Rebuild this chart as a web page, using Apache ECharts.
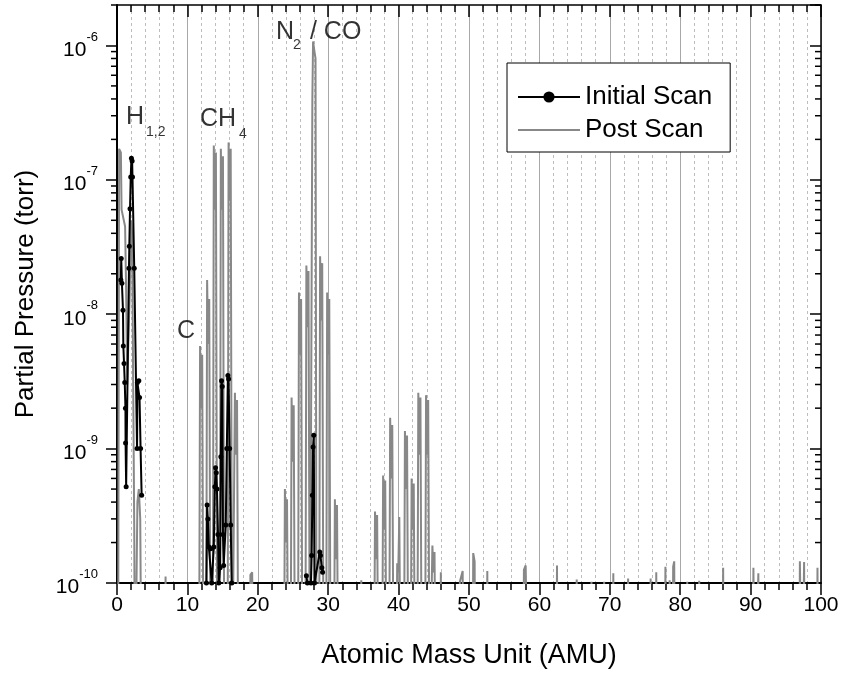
<!DOCTYPE html>
<html><head><meta charset="utf-8">
<script src="https://cdn.jsdelivr.net/npm/echarts@6/dist/echarts.min.js"></script>
<style>html,body{margin:0;padding:0;background:#fff}#c{width:843px;height:674px}</style>
</head><body><div id="c"></div>
<script>
// ---------------- DATA ----------------
// Post Scan (grey) : [AMU, torr]; 1e-11 = below axis floor
const postH = [[0.15,1e-11],[0.3,1.7e-7],[0.55,1.6e-7],[0.65,6e-8],[1.15,4.5e-8],[1.3,1.5e-8],[1.45,3e-9],[1.8,1.4e-8],[2.0,5e-8],[2.15,4e-8],[2.3,3e-9],[2.45,2.5e-10],[2.55,1e-11],[2.9,4e-10],[3.1,5e-10],[3.3,3e-10],[3.5,1e-11],
  [6.8,1e-11],[6.9,1.12e-10],[7.0,1e-11]];
const postCH4 = [[11.65,1e-11],[11.8,5.8e-9],[11.95,2e-9],[12.1,5e-9],[12.3,1e-11],
  [12.65,1e-11],[12.8,1.8e-8],[12.95,6e-9],[13.1,1.3e-8],[13.3,1e-11],
  [13.6,1e-11],[13.75,1.8e-7],[13.9,6e-8],[14.05,1.6e-7],[14.25,1e-11],
  [14.6,1e-11],[14.75,1.7e-7],[14.9,6e-8],[15.05,1.5e-7],[15.25,1e-11],
  [15.7,1e-11],[15.85,1.9e-7],[16.0,7e-8],[16.15,1.7e-7],[16.35,1e-11],
  [16.6,1e-11],[16.75,2.6e-9],[16.9,9e-10],[17.05,2.3e-9],[17.25,1e-11],
  [18.8,1e-11],[18.95,1.15e-10],[19.2,1.2e-10],[19.4,1e-11]];
const postN2 = [[23.7,1e-11],[23.85,5e-10],[24.0,2e-10],[24.15,4.2e-10],[24.35,1e-11],
  [24.65,1e-11],[24.8,2.4e-9],[24.95,8e-10],[25.1,2.1e-9],[25.3,1e-11],
  [25.7,1e-11],[25.85,1.45e-8],[26.0,5e-9],[26.15,1.3e-8],[26.35,1e-11],
  [26.75,1e-11],[26.9,2.3e-8],[27.05,8e-9],[27.2,2.1e-8],[27.4,1e-11],
  [27.6,1e-11],[27.75,4e-7],[27.85,1.07e-6],[28.05,9e-7],[28.2,8e-7],[28.35,1e-11],
  [28.7,1e-11],[28.85,2.7e-8],[29.0,9e-9],[29.15,2.4e-8],[29.35,1e-11],
  [29.7,1e-11],[29.85,1.45e-8],[30.0,5e-9],[30.15,1.3e-8],[30.35,1e-11],
  [30.8,1e-11],[30.95,4.2e-10],[31.1,1.5e-10],[31.25,3.8e-10],[31.45,1e-11],
  [34.6,1e-11],[34.7,1.05e-10],[34.8,1e-11]];
const postAr = [[36.5,1e-11],[36.65,3.4e-10],[36.8,1.5e-10],[36.95,3.2e-10],[37.15,1e-11],
  [37.65,1e-11],[37.8,6.3e-10],[37.95,2.5e-10],[38.1,5.8e-10],[38.3,1e-11],
  [38.65,1e-11],[38.8,1.7e-9],[38.95,6e-10],[39.1,1.5e-9],[39.3,1e-11],
  [39.65,1e-11],[39.8,1.4e-10],[39.95,1.2e-10],[40.1,3.1e-10],[40.3,1e-11],
  [40.75,1e-11],[40.9,1.35e-9],[41.05,5e-10],[41.2,1.25e-9],[41.4,1e-11],
  [41.7,1e-11],[41.85,6e-10],[42.0,2.5e-10],[42.15,5.5e-10],[42.35,1e-11],
  [42.65,1e-11],[42.8,2.6e-9],[42.95,9e-10],[43.1,2.4e-9],[43.3,1e-11],
  [43.75,1e-11],[43.9,2.5e-9],[44.05,9e-10],[44.2,2.3e-9],[44.4,1e-11],
  [44.65,1e-11],[44.8,1.9e-10],[44.95,1.2e-10],[45.1,1.7e-10],[45.3,1e-11],
  [45.9,1e-11],[46.0,1.2e-10],[46.1,1e-11]];
const postTrace = [[48.6,1e-11],[48.7,1.02e-10],[49.1,1.23e-10],[49.2,1e-11],
  [50.5,1e-11],[50.6,1.67e-10],[50.8,1.45e-10],[50.9,1e-11],
  [52.5,1e-11],[52.6,1.23e-10],[52.7,1e-11],
  [57.7,1e-11],[57.8,1.25e-10],[58.05,1.35e-10],[58.3,1.35e-10],[58.4,1e-11],
  [62.4,1e-11],[62.5,1.35e-10],[62.6,1e-11],
  [65.2,1e-11],[65.3,1.06e-10],[65.4,1e-11],
  [67.3,1e-11],[67.4,1.02e-10],[67.5,1e-11],
  [69.1,1e-11],[69.2,1.02e-10],[69.3,1e-11],
  [70.4,1e-11],[70.5,1.18e-10],[70.6,1e-11],
  [72.5,1e-11],[72.6,1.08e-10],[72.7,1e-11],
  [75.7,1e-11],[75.8,1.08e-10],[75.9,1e-11],
  [76.5,1e-11],[76.6,1.2e-10],[76.7,1e-11],
  [77.8,1e-11],[77.9,1.32e-10],[78.0,1e-11],
  [78.4,1e-11],[78.5,1.05e-10],[78.6,1e-11],
  [78.9,1e-11],[79.0,1.32e-10],[79.15,1.45e-10],[79.25,1e-11],
  [80.9,1e-11],[81.0,1.02e-10],[81.1,1e-11],
  [82.6,1e-11],[82.7,1.04e-10],[82.8,1e-11],
  [86.0,1e-11],[86.1,1.3e-10],[86.2,1e-11],
  [90.3,1e-11],[90.4,1.3e-10],[90.6,1e-11],[91.1,1.18e-10],[91.2,1e-11],
  [96.9,1e-11],[97.0,1.45e-10],[97.15,1.45e-10],[97.3,1e-11],[97.6,1.43e-10],[97.7,1e-11],
  [99.4,1e-11],[99.5,1.3e-10],[99.6,1e-11]];

// Initial Scan (black) : [AMU, torr]
const initH = [[0.55,1.8e-8],[0.6,2.6e-8],[0.7,1.7e-8],[0.85,1.07e-8],[0.9,5.8e-9],[1.0,4.3e-9],[1.1,3.1e-9],[1.2,2e-9],[1.22,1.1e-9],[1.3,5.2e-10],
  [1.7,2.2e-8],[1.75,3.2e-8],[1.85,6.1e-8],[1.95,1.05e-7],[2.05,1.45e-7],[2.15,1.38e-7],[2.2,1.05e-7],[2.45,2.2e-8],
  [2.85,1.0e-9],[2.9,3.1e-9],[3.1,3.2e-9],[3.2,2.4e-9],[3.35,1.0e-9],[3.5,4.5e-10]];
const initCH4 = [[12.7,1.0e-10],[12.8,3.8e-10],[12.9,3.0e-10],[13.05,1.85e-10],[13.3,1.8e-10],[13.45,1.0e-10],
  [13.75,1.85e-10],[13.9,5.2e-10],[14.0,7.2e-10],[14.1,6.6e-10],[14.2,5.0e-10],[14.35,2.3e-10],[14.45,1.0e-10],
  [14.65,1.3e-10],[14.75,8.7e-10],[14.85,3.2e-9],[14.95,2.9e-9],[15.05,2.3e-10],[15.15,1.35e-10],
  [15.45,2.7e-10],[15.6,1.0e-9],[15.75,3.5e-9],[15.85,3.3e-9],[16.0,1.0e-9],[16.15,2.7e-10],[16.3,1.0e-10]];
const initN2 = [[26.9,1.13e-10],[27.05,1.0e-10],[27.55,1.0e-10],[27.65,1.6e-10],[27.75,4.5e-10],[27.85,1.03e-9],[27.95,1.26e-9],[28.05,1.0e-10],
  [28.8,1.7e-10],[28.9,1.6e-10],[29.1,1.3e-10],[29.2,1.2e-10]];

// Annotations: [text, AMU, torr, isSubscript]
const peakLabels = [
  ['H', 1.28, 2.92e-7, false], ['1,2', 4.12, 2.25e-7, true],
  ['CH', 11.79, 2.82e-7, false], ['4', 17.33, 2.18e-7, true],
  ['C', 8.52, 7.48e-9, false],
  ['N', 22.59, 1.26e-6, false], ['2', 25.0, 1.0e-6, true], ['/ CO', 27.41, 1.26e-6, false]
];

const xTickLabels = ['0','10','20','30','40','50','60','70','80','90','100'];
const seriesNames = ['Initial Scan', 'Post Scan'];

// ---------------- CHART ----------------
const FONT = '"Liberation Sans", Arial, Helvetica, sans-serif';
const minorTickTorr = [];
for (let e = -10; e <= -6; e++) for (let k = 2; k <= 9; k++) { const v = k * Math.pow(10, e); if (v <= 2e-6) minorTickTorr.push(v); }

const gap = [['-','-']];
const initialData = initH.concat(gap, initCH4, gap, initN2);
const postData = postH.concat(postCH4, postN2, postAr, postTrace);

const chart = echarts.init(document.getElementById('c'), null, {renderer: 'canvas'});
const axisBlack = {color: '#000', width: 1.5};
chart.setOption({
  animation: false,
  backgroundColor: '#fff',
  grid: {left: 117, right: 22, top: 5, bottom: 91, containLabel: false},
  legend: {
    data: [{name: seriesNames[0]}, {name: seriesNames[1], itemStyle: {opacity: 0}}],
    orient: 'vertical', left: 507, top: 63,
    itemWidth: 62, itemHeight: 14, itemGap: 5,
    padding: [20, 18, 8, 10], borderColor: '#000', borderWidth: 1, backgroundColor: '#fff',
    textStyle: {fontSize: 26, color: '#000', fontFamily: FONT, lineHeight: 28}
  },
  xAxis: [{
    type: 'value', min: 0, max: 100, interval: 10, position: 'bottom',
    name: 'Atomic Mass Unit (AMU)', nameLocation: 'middle', nameGap: 59,
    nameTextStyle: {fontSize: 27, color: '#000', fontFamily: FONT},
    axisLine: {onZero: false, lineStyle: {color: '#000', width: 2}},
    axisTick: {length: 12, lineStyle: axisBlack},
    minorTick: {show: true, splitNumber: 5, length: 7, lineStyle: axisBlack},
    splitLine: {show: true, lineStyle: {color: '#a8a8a8', width: 1}},
    minorSplitLine: {show: true, lineStyle: {color: '#bdbdbd', width: 1, type: [3, 3]}},
    axisLabel: {fontSize: 21, color: '#000', fontFamily: FONT, margin: 12,
      formatter: (v) => xTickLabels[Math.round(v / 10)] }
  }, {
    type: 'value', min: 0, max: 100, interval: 10, position: 'top',
    axisLine: {onZero: false, lineStyle: {color: '#000', width: 1.5}},
    axisTick: {inside: true, length: 12, lineStyle: axisBlack},
    minorTick: {show: true, splitNumber: 5, length: 7, lineStyle: axisBlack},
    splitLine: {show: false}, axisLabel: {show: false}
  }],
  yAxis: [{
    type: 'log', logBase: 10, min: 1e-10, max: 2e-6, position: 'left',
    name: 'Partial Pressure (torr)', nameLocation: 'middle', nameGap: 78,
    nameTextStyle: {fontSize: 26, color: '#000', fontFamily: FONT},
    axisLine: {onZero: false, lineStyle: {color: '#000', width: 2}},
    axisTick: {length: 11, lineStyle: axisBlack},
    splitLine: {show: false},
    axisLabel: {
      showMaxLabel: false, margin: 19, color: '#000', fontFamily: FONT,
      formatter: (v) => '{b|10}{s|' + Math.round(Math.log10(v)) + '}',
      rich: {
        b: {fontSize: 21, fontFamily: FONT, color: '#000', lineHeight: 30, verticalAlign: 'bottom'},
        s: {fontSize: 13, fontFamily: FONT, color: '#000', lineHeight: 13, verticalAlign: 'top'}
      }
    }
  }, {
    type: 'log', logBase: 10, min: 1e-10, max: 2e-6, position: 'right',
    axisLine: {onZero: false, lineStyle: {color: '#000', width: 1.5}},
    axisTick: {inside: true, length: 11, lineStyle: axisBlack},
    splitLine: {show: false}, axisLabel: {show: false}
  }],
  series: [{
    name: 'Post Scan', type: 'line', data: postData, showSymbol: false, symbol: 'none',
    lineStyle: {color: '#888888', width: 2}, itemStyle: {color: '#888888'}, clip: true, z: 2
  }, {
    name: 'Initial Scan', type: 'line', data: initialData, symbol: 'circle', symbolSize: 5,
    showAllSymbol: true, connectNulls: false,
    lineStyle: {color: '#000', width: 2}, itemStyle: {color: '#000'}, clip: true, z: 3
  }, {
    type: 'custom', silent: true, clip: false, z: 4,
    data: minorTickTorr.map(v => [0, v]),
    renderItem: (params, api) => {
      const l = api.coord([0, api.value(1)]);
      const r = api.coord([100, api.value(1)]);
      return {type: 'group', children: [
        {type: 'line', shape: {x1: l[0] - 6, y1: l[1], x2: l[0], y2: l[1]}, style: {stroke: '#000', lineWidth: 1.5}},
        {type: 'line', shape: {x1: r[0] - 6, y1: r[1], x2: r[0], y2: r[1]}, style: {stroke: '#000', lineWidth: 1.5}}
      ]};
    }
  }, {
    type: 'scatter', silent: true, symbolSize: 0, z: 5, clip: false,
    data: peakLabels.map(p => ({
      value: [p[1], p[2]],
      label: {show: true, formatter: p[0], position: 'inside', align: 'left', verticalAlign: 'middle',
        fontSize: p[3] ? 14 : 25, color: '#000', fontFamily: FONT}
    }))
  }]
});
</script></body></html>
